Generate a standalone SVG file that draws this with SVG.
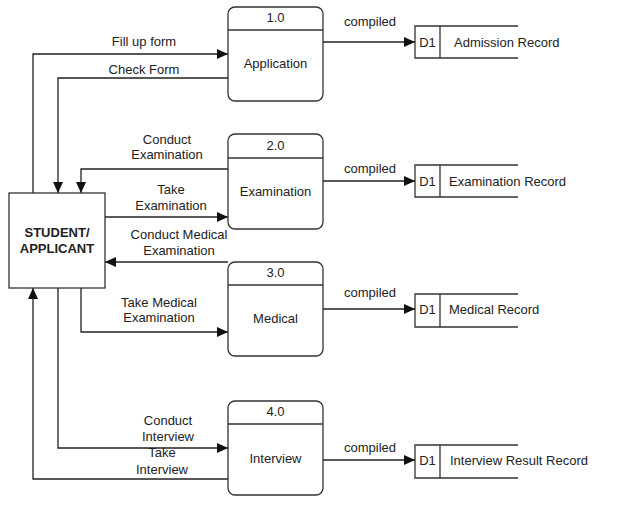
<svg xmlns="http://www.w3.org/2000/svg" width="639" height="519" viewBox="0 0 639 519">
<defs>
<marker id="arr" markerUnits="userSpaceOnUse" markerWidth="12" markerHeight="10" refX="11" refY="5" orient="auto">
<path d="M0,0 L11,5 L0,10 Z" fill="#111"/>
</marker>
<style>
text{font-family:"Liberation Sans",Arial,sans-serif;font-size:13px;fill:#222;text-anchor:middle}
.b{font-weight:bold}
.s{text-anchor:start}
.box{fill:#fff;stroke:#333;stroke-width:1.3}
.ln{fill:none;stroke:#333;stroke-width:1.3}
.c{fill:none;stroke:#222;stroke-width:1.3}
.a{marker-end:url(#arr)}
</style>
</defs>
<rect width="639" height="519" fill="#fff"/>

<g id="connectors">
<path class="c a" d="M33,193 V54 H228"/>
<path class="c a" d="M228,78 H58 V193"/>
<path class="c a" d="M228,169 H81 V193"/>
<path class="c a" d="M105,217 H228"/>
<path class="c a" d="M228,262 H105"/>
<path class="c a" d="M81,288 V332 H228"/>
<path class="c a" d="M58,288 V448 H228"/>
<path class="c a" d="M228,479 H33 V288"/>
<path class="c a" d="M323,42 H415"/>
<path class="c a" d="M323,181 H415"/>
<path class="c a" d="M323,309 H415"/>
<path class="c a" d="M323,460 H415"/>
<text x="144" y="46">Fill up form</text>
<text x="144" y="74">Check Form</text>
<text x="167" y="144">Conduct</text>
<text x="167" y="159">Examination</text>
<text x="171" y="194">Take</text>
<text x="171" y="210">Examination</text>
<text x="179" y="239">Conduct Medical</text>
<text x="179" y="255">Examination</text>
<text x="159" y="307">Take Medical</text>
<text x="159" y="322">Examination</text>
<text x="168" y="425">Conduct</text>
<text x="168" y="441">Interview</text>
<text x="162" y="457">Take</text>
<text x="162" y="474">Interview</text>
<text x="370" y="26">compiled</text>
<text x="370" y="173">compiled</text>
<text x="370" y="297">compiled</text>
<text x="370" y="452">compiled</text>
</g>

<g id="student">
<rect class="box" x="9" y="193" width="96" height="95"/>
<text class="b" x="57" y="237">STUDENT/</text>
<text class="b" x="57" y="253">APPLICANT</text>
</g>

<g id="p1">
<rect class="box" x="228" y="7" width="95" height="94" rx="7"/>
<line class="ln" x1="228" y1="30" x2="323" y2="30"/>
<text x="275.5" y="22">1.0</text>
<text x="275.5" y="68">Application</text>
</g>
<g id="p2">
<rect class="box" x="228" y="134" width="95" height="95" rx="7"/>
<line class="ln" x1="228" y1="158" x2="323" y2="158"/>
<text x="275.5" y="150">2.0</text>
<text x="275.5" y="196">Examination</text>
</g>
<g id="p3">
<rect class="box" x="228" y="262" width="95" height="94" rx="7"/>
<line class="ln" x1="228" y1="285" x2="323" y2="285"/>
<text x="275.5" y="277">3.0</text>
<text x="275.5" y="323">Medical</text>
</g>
<g id="p4">
<rect class="box" x="228" y="401" width="95" height="94" rx="7"/>
<line class="ln" x1="228" y1="424" x2="323" y2="424"/>
<text x="275.5" y="416">4.0</text>
<text x="275.5" y="463">Interview</text>
</g>

<g id="d1">
<path class="ln" d="M518,26 H415 V58 H518 M440,26 V58"/>
<text x="427.5" y="47">D1</text>
<text class="s" x="454" y="47">Admission Record</text>
</g>
<g id="d2">
<path class="ln" d="M518,165 H415 V197 H518 M440,165 V197"/>
<text x="427.5" y="186">D1</text>
<text class="s" x="449" y="186">Examination Record</text>
</g>
<g id="d3">
<path class="ln" d="M518,294 H415 V327 H518 M440,294 V327"/>
<text x="427.5" y="314">D1</text>
<text class="s" x="449" y="314">Medical Record</text>
</g>
<g id="d4">
<path class="ln" d="M518,445 H415 V478 H518 M440,445 V478"/>
<text x="427.5" y="465">D1</text>
<text class="s" x="450" y="465">Interview Result Record</text>
</g>
</svg>
